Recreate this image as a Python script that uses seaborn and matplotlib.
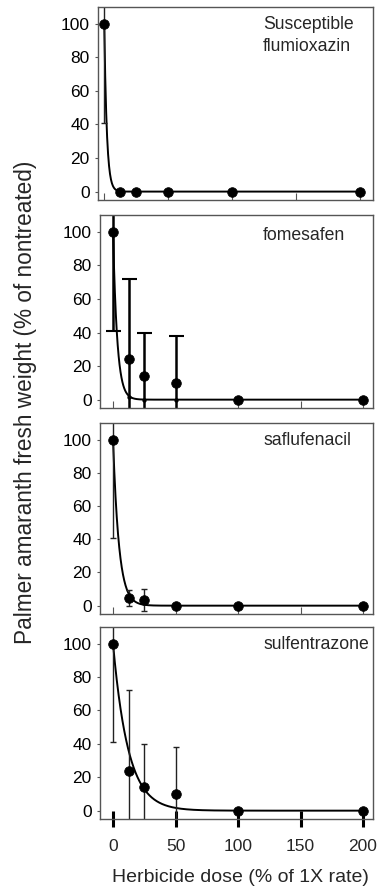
import numpy as np
import pandas as pd
import seaborn as sns
import matplotlib
matplotlib.use("Agg")
import matplotlib.pyplot as plt

# data
doses = [0, 12.5, 25, 50, 100, 200]
panel_labels = ["Susceptible\nflumioxazin", "fomesafen", "saflufenacil", "sulfentrazone"]

flumioxazin_mean = [100, 0, 0, 0, 0, 0]
flumioxazin_err = [59, 0, 0, 0, 0, 0]
fomesafen_mean = [100, 24, 14, 10, 0, 0]
fomesafen_err = [59, 48, 26, 28, 0, 0]
saflufenacil_mean = [100, 4.5, 3.5, 0, 0, 0]
saflufenacil_err = [59, 5, 6.5, 0, 0, 0]
sulfentrazone_mean = [100, 24, 14, 10, 0, 0]
sulfentrazone_err = [59, 48, 26, 28, 0, 0]

# small dots on the fomesafen curve at 12.5, 25 and 50
fomesafen_small_doses = [12.5, 25, 50]
fomesafen_small = [1.5, 0, 0]

# fitted dose-response curves, y = 100 * exp(-k * dose)
decay_rate = [0.5, 0.3, 0.21, 0.082]

x_ticks = [0, 50, 100, 150, 200]
y_ticks = [0, 20, 40, 60, 80, 100]

means = [flumioxazin_mean, fomesafen_mean, saflufenacil_mean, sulfentrazone_mean]
errs = [flumioxazin_err, fomesafen_err, saflufenacil_err, sulfentrazone_err]

sns.set_style("ticks")
plt.rcParams['font.family'] = ['Liberation Sans', 'DejaVu Sans']

fig = plt.figure(figsize=(3.77, 8.88), dpi=100)

# axes boxes in figure fractions (left, bottom, width, height)
boxes = [
    (0.2599, 0.7748, 0.7294, 0.2173),
    (0.2653, 0.5405, 0.7241, 0.2173),
    (0.2653, 0.3086, 0.7241, 0.2151),
    (0.2653, 0.0777, 0.7241, 0.2162),
]
xlims = [(-4.9, 210.2), (-10.4, 208), (-10.4, 208), (-10.4, 208)]
label_offset_px = [9, 12, 9, 9]
spine_col = "#555555"

for i in range(4):
    ax = fig.add_axes(boxes[i])
    df = pd.DataFrame({"dose": doses, "fw": means[i], "err": errs[i]})

    # fitted curve
    grid = np.linspace(0, 200, 801)
    curve = pd.DataFrame({"dose": grid, "fw": 100 * np.exp(-decay_rate[i] * grid)})
    sns.lineplot(data=curve, x="dose", y="fw", ax=ax, color="black", lw=1.4, zorder=2)

    # error bars (only where there is one)
    eb = df[df.err > 0]
    if i == 1:
        ax.errorbar(eb.dose, eb.fw, yerr=eb.err, fmt="none", ecolor="black",
                    elinewidth=1.8, capsize=5.4, capthick=1.5, zorder=2)
        sns.scatterplot(x=fomesafen_small_doses, y=fomesafen_small, ax=ax, s=8,
                        color="black", edgecolor="black", zorder=3)
    else:
        ax.errorbar(eb.dose, eb.fw, yerr=eb.err, fmt="none", ecolor="#222222",
                    elinewidth=1.0, capsize=2.3, capthick=1.0, zorder=2)

    sns.scatterplot(data=df, x="dose", y="fw", ax=ax, s=48, color="black",
                    edgecolor="black", zorder=4)

    ax.set_xlim(*xlims[i])
    ax.set_ylim(-5, 110)
    ax.set_yticks(y_ticks)
    ax.set_xticks(x_ticks)
    ax.set_xlabel("")
    ax.set_ylabel("")
    for s in ax.spines.values():
        s.set_visible(True)
        s.set_color(spine_col)
        s.set_linewidth(1.0)

    ax.tick_params(axis="y", direction="out", length=2.5, width=0.8, color=spine_col,
                   labelsize=12.5, pad=3.5, labelcolor="black")
    if i < 3:
        ax.tick_params(axis="x", direction="in", length=5, width=0.8, color=spine_col,
                       labelbottom=False)
    else:
        ax.tick_params(axis="x", direction="inout", length=11, width=2.2, color="black",
                       labelsize=12.5, pad=9)

    h_px = boxes[i][3] * 888
    x0 = (263 - (98 if i == 0 else 100)) / (275 if i == 0 else 273)
    ax.text(x0, 1 - label_offset_px[i] / h_px, panel_labels[i], transform=ax.transAxes,
            ha="left", va="top", fontsize=12.7, linespacing=1.4)

fig.text(26 / 377, 1 - 402 / 888, "Palmer amaranth fresh weight (% of nontreated)",
         rotation=90, ha="center", va="center", fontsize=16.3)
fig.text(240 / 377, 1 - 877 / 888, "Herbicide dose (% of 1X rate)",
         ha="center", va="center", fontsize=14)

fig.savefig("out.png", dpi=100)
